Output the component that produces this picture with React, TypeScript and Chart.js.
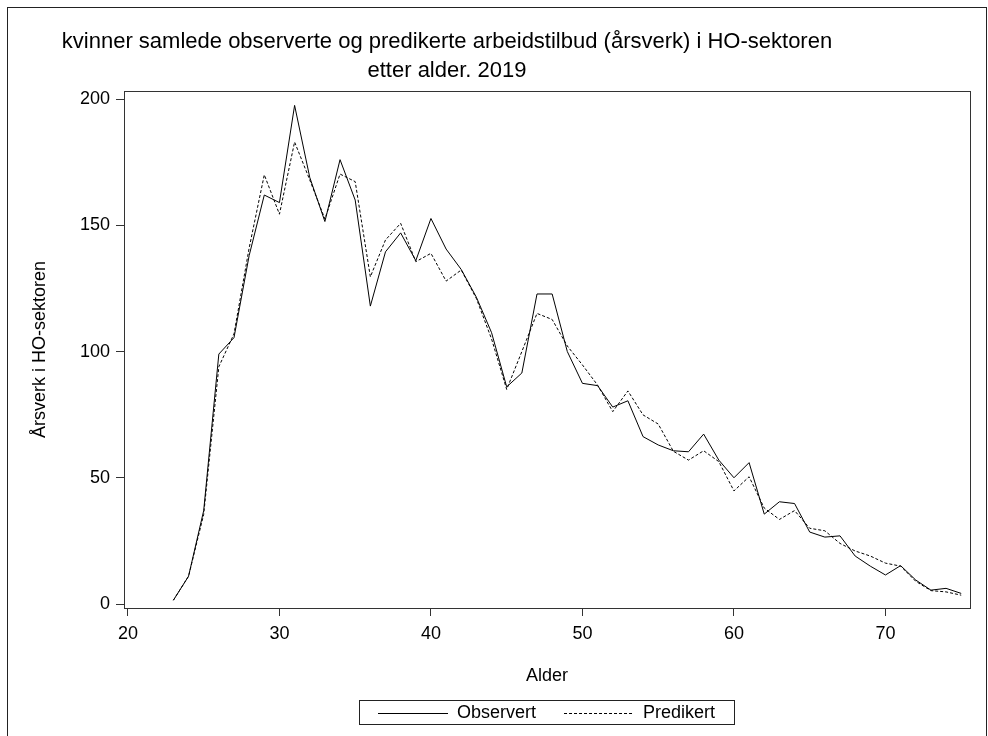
import { useEffect, useRef } from "react";
import { Chart, registerables } from "chart.js";

Chart.register(...registerables);

const ages = [
  23, 24, 25, 26, 27, 28, 29, 30, 31, 32, 33, 34, 35, 36, 37, 38, 39, 40, 41, 42, 43, 44, 45, 46, 47, 48, 49,
  50, 51, 52, 53, 54, 55, 56, 57, 58, 59, 60, 61, 62, 63, 64, 65, 66, 67, 68, 69, 70, 71, 72, 73, 74, 75,
];
const observert = [
  1.5, 11, 37, 99, 105.5, 138, 162, 159, 197.5, 169, 151.5, 176, 160, 118, 139.5, 147, 136, 152.7, 140.6, 132.5,
  121.5, 107.5, 86, 91.5, 122.8, 122.8, 100, 87.4, 86.5, 78, 80.5, 66.3, 63, 60.7, 60.3, 67.3, 57, 50, 56, 35.6,
  40.5, 39.8, 28.5, 26.5, 27, 19, 15, 11.5, 15.2, 9.5, 5.5, 6.2, 4.2,
];
const predikert = [
  1.5, 11, 35.5, 94, 107, 141, 170, 154.4, 183, 168, 152.5, 170.3, 167.3, 129.6, 144.2, 150.8, 135.6, 138.9, 127.9,
  132.3, 121, 105, 85, 100, 115.1, 112.7, 102.2, 94.7, 86.7, 76.2, 84.4, 74.9, 71.3, 60.5, 57, 60.7, 56.4, 44.8,
  50.4, 38, 33.5, 37, 30, 29, 24, 21, 19, 16.2, 15, 9, 5.3, 4.8, 3.5,
];
const xTickValues = [20, 30, 40, 50, 60, 70];
const yTickValues = [0, 50, 100, 150, 200];
const seriesNames = ["Observert", "Predikert"];
const titleLines = [
  "kvinner samlede observerte og predikerte arbeidstilbud (årsverk) i HO-sektoren",
  "etter alder. 2019",
];
const xTitle = "Alder";
const yTitle = "Årsverk i HO-sektoren";

const FONT = '"Liberation Sans", Arial, Helvetica, sans-serif';

const framePlugin = {
  id: "frame",
  afterDatasetsDraw(chart: any) {
    const { ctx, chartArea } = chart;
    ctx.save();
    ctx.strokeStyle = "#333";
    ctx.lineWidth = 1;
    ctx.strokeRect(
      Math.round(chartArea.left) + 0.5,
      Math.round(chartArea.top) + 0.5,
      Math.round(chartArea.right - chartArea.left),
      Math.round(chartArea.bottom - chartArea.top)
    );
    ctx.restore();
  },
};

const titlePlugin = {
  id: "twoLineTitle",
  afterDraw(chart: any) {
    const { ctx } = chart;
    ctx.save();
    ctx.fillStyle = "#000";
    ctx.font = `22px ${FONT}`;
    ctx.textAlign = "center";
    ctx.textBaseline = "alphabetic";
    const cx = 447;
    ctx.fillText(titleLines[0], cx, 48);
    ctx.fillText(titleLines[1], cx, 77);
    ctx.restore();
  },
};

const legendPlugin = {
  id: "boxLegend",
  afterDraw(chart: any) {
    const { ctx, chartArea } = chart;
    const ds = chart.data.datasets;
    ctx.save();
    ctx.font = `18px ${FONT}`;
    const padX = 19;
    const sampleLen = 70;
    const gapText = 9;
    const gapItems = 28;
    const widths = ds.map((d: any) => ctx.measureText(d.label).width);
    let total = padX * 2;
    widths.forEach((w: number, i: number) => {
      total += sampleLen + gapText + w;
      if (i > 0) total += gapItems;
    });
    const cx = (chartArea.left + chartArea.right) / 2;
    const left = Math.round(cx - total / 2);
    const top = 700;
    const h = 24;
    ctx.strokeStyle = "#222";
    ctx.lineWidth = 1;
    ctx.strokeRect(left + 0.5, top + 0.5, Math.round(total), h);
    let x = left + padX;
    const midY = top + h / 2 + 0.5;
    ds.forEach((d: any, i: number) => {
      ctx.beginPath();
      ctx.setLineDash(d.borderDash || []);
      ctx.strokeStyle = d.borderColor;
      ctx.lineWidth = d.borderWidth;
      ctx.moveTo(x, Math.round(midY) + 0.5);
      ctx.lineTo(x + sampleLen, Math.round(midY) + 0.5);
      ctx.stroke();
      ctx.setLineDash([]);
      x += sampleLen + gapText;
      ctx.fillStyle = "#000";
      ctx.textAlign = "left";
      ctx.textBaseline = "middle";
      ctx.fillText(d.label, x, midY + 1);
      x += widths[i] + gapItems;
    });
    ctx.restore();
  },
};

export default function App() {
  const canvasRef = useRef<HTMLCanvasElement | null>(null);

  useEffect(() => {
    if (!canvasRef.current) return;
    const chart = new Chart(canvasRef.current, {
      type: "line",
      data: {
        datasets: [
          {
            label: seriesNames[0],
            data: ages.map((a, i) => ({ x: a, y: observert[i] })),
            borderColor: "#000",
            borderWidth: 1,
            pointRadius: 0,
            tension: 0,
            fill: false,
          },
          {
            label: seriesNames[1],
            data: ages.map((a, i) => ({ x: a, y: predikert[i] })),
            borderColor: "#000",
            borderWidth: 1,
            borderDash: [3, 2],
            pointRadius: 0,
            tension: 0,
            fill: false,
          },
        ],
      },
      options: {
        animation: false,
        responsive: false,
        devicePixelRatio: 1,
        layout: { padding: { left: 0, top: 91, right: 18, bottom: 0 } },
        plugins: {
          legend: { display: false },
          title: { display: false },
          tooltip: { enabled: false },
        },
        scales: {
          x: {
            type: "linear",
            min: 19.74,
            max: 75.58,
            afterFit: (s: any) => {
              s.height = 128;
            },
            afterBuildTicks: (s: any) => {
              s.ticks = xTickValues.map((v) => ({ value: v }));
            },
            border: { display: false },
            grid: {
              drawOnChartArea: false,
              drawTicks: true,
              tickLength: 8,
              color: "#333",
            },
            ticks: {
              color: "#000",
              padding: 7,
              maxRotation: 0,
              font: { family: FONT, size: 18 },
            },
            title: {
              display: true,
              text: xTitle,
              color: "#000",
              font: { family: FONT, size: 18 },
              padding: { top: 0, bottom: 49 },
            },
          },
          y: {
            type: "linear",
            min: -1.58,
            max: 203.2,
            afterFit: (s: any) => {
              s.width = 124;
            },
            afterBuildTicks: (s: any) => {
              s.ticks = yTickValues.map((v) => ({ value: v }));
            },
            border: { display: false },
            grid: {
              drawOnChartArea: false,
              drawTicks: true,
              tickLength: 8,
              color: "#333",
            },
            ticks: {
              color: "#000",
              padding: 6,
              font: { family: FONT, size: 18 },
            },
            title: {
              display: true,
              text: yTitle,
              color: "#000",
              font: { family: FONT, size: 18 },
              padding: { top: 29, bottom: 0 },
            },
          },
        },
      },
      plugins: [framePlugin, titlePlugin, legendPlugin],
    });
    return () => chart.destroy();
  }, []);

  return (
    <div
      style={{
        position: "absolute",
        left: 0,
        top: 0,
        width: 988,
        height: 736,
        background: "#fff",
        overflow: "hidden",
      }}
    >
      <div
        style={{
          position: "absolute",
          left: 7,
          top: 7,
          width: 980,
          height: 729,
          boxSizing: "border-box",
          border: "1px solid #222",
          borderBottom: "none",
        }}
      />
      <canvas
        ref={canvasRef}
        width={988}
        height={736}
        style={{ position: "absolute", left: 0, top: 0, width: 988, height: 736, display: "block" }}
      />
    </div>
  );
}
